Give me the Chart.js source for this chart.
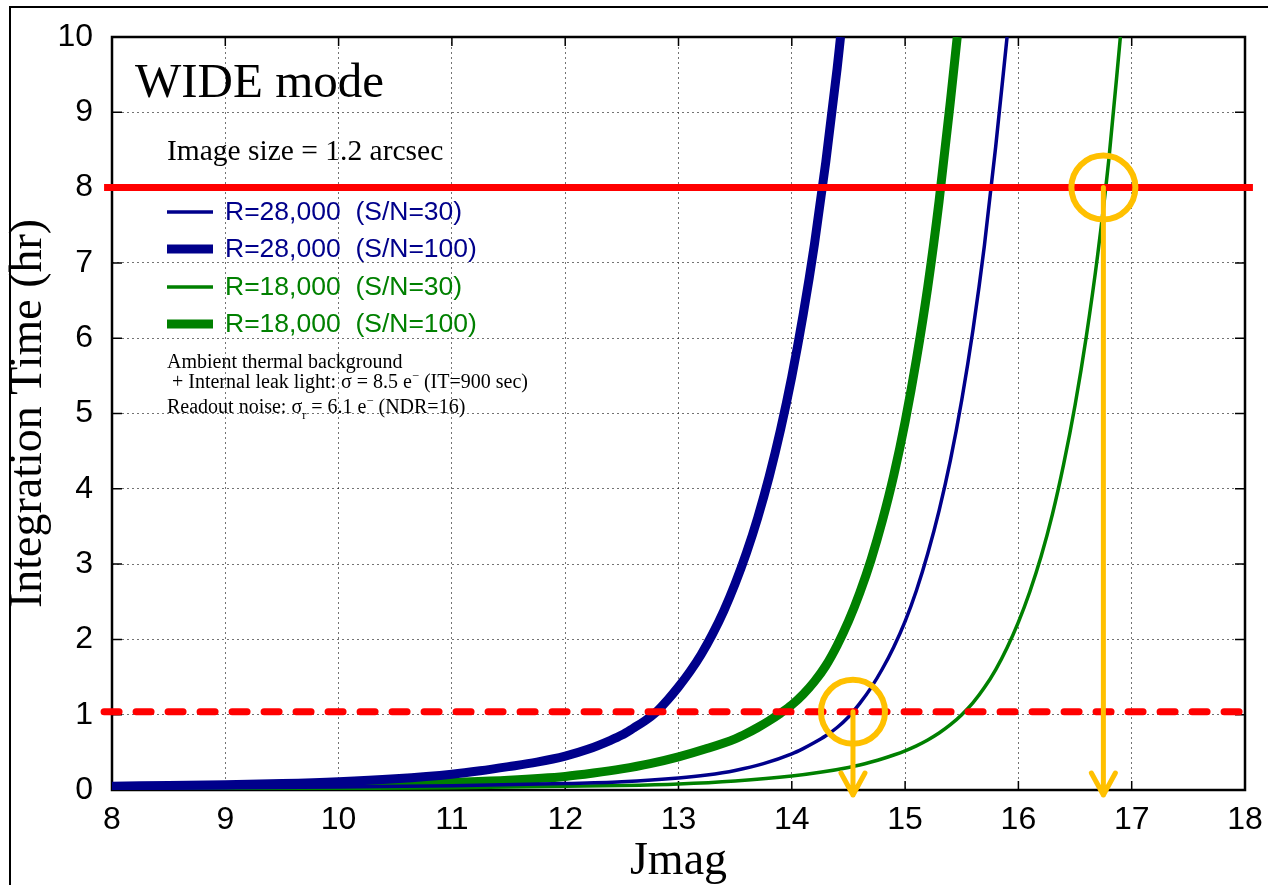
<!DOCTYPE html>
<html>
<head>
<meta charset="utf-8">
<script src="https://cdn.jsdelivr.net/npm/chart.js@4.4.0/dist/chart.umd.min.js"></script>
<style>
  html, body { margin: 0; padding: 0; background: #fff; overflow: hidden; }
  #wrap { position: relative; width: 1268px; height: 885px; overflow: hidden; }
  #frame { position: absolute; left: 9px; top: 6px; width: 1400px; height: 1000px; border: 2px solid #000; }
  canvas { position: absolute; left: 0; top: 0; }
</style>
</head>
<body>
<div id="wrap">
  <div id="frame"></div>
  <canvas id="myChart" width="1268" height="885"></canvas>
</div>
<script>
// axis ticks
const jmagTicks = [8, 9, 10, 11, 12, 13, 14, 15, 16, 17, 18];
const hourTicks = [0, 1, 2, 3, 4, 5, 6, 7, 8, 9, 10];

// R=28,000 S/N=30 (thin blue)
const r28sn30Mag = [8, 9, 10, 11, 12, 12.5, 13, 13.25, 13.5, 13.75, 14, 14.1, 14.2, 14.3, 14.4, 14.5, 14.6, 14.7, 14.8, 14.9, 15, 15.1, 15.2, 15.3, 15.4, 15.5, 15.6, 15.7, 15.8, 15.9];
const r28sn30Hr = [0.02, 0.03, 0.04, 0.055, 0.085, 0.11, 0.16, 0.2, 0.26, 0.35, 0.48, 0.55, 0.63, 0.72, 0.83, 0.97, 1.15, 1.36, 1.61, 1.9, 2.24, 2.65, 3.14, 3.71, 4.38, 5.18, 6.12, 7.23, 8.55, 10];

// R=28,000 S/N=100 (thick blue)
const r28sn100Mag = [8, 8.5, 9, 9.5, 10, 10.5, 11, 11.25, 11.5, 11.75, 12, 12.2, 12.4, 12.5, 12.6, 12.7, 12.8, 12.9, 13, 13.1, 13.2, 13.3, 13.4, 13.5, 13.6, 13.7, 13.8, 13.9, 14, 14.1, 14.2, 14.3, 14.4, 14.43];
const r28sn100Hr = [0.05, 0.06, 0.07, 0.085, 0.11, 0.15, 0.21, 0.255, 0.31, 0.37, 0.45, 0.54, 0.66, 0.73, 0.82, 0.915, 1.03, 1.19, 1.37, 1.57, 1.8, 2.07, 2.38, 2.74, 3.15, 3.62, 4.16, 4.78, 5.49, 6.31, 7.25, 8.34, 9.58, 10];

// R=18,000 S/N=30 (thin green)
const r18sn30Mag = [8, 9, 10, 11, 12, 12.5, 13, 13.5, 14, 14.25, 14.5, 14.6, 14.7, 14.8, 14.9, 15, 15.1, 15.2, 15.3, 15.4, 15.5, 15.6, 15.7, 15.8, 15.9, 16, 16.1, 16.2, 16.3, 16.4, 16.5, 16.6, 16.7, 16.8, 16.9];
const r18sn30Hr = [0.01, 0.015, 0.02, 0.03, 0.05, 0.06, 0.08, 0.12, 0.185, 0.235, 0.3, 0.333, 0.372, 0.415, 0.465, 0.521, 0.587, 0.665, 0.757, 0.867, 1.0, 1.16, 1.36, 1.6, 1.89, 2.23, 2.63, 3.1, 3.66, 4.33, 5.11, 6.03, 7.11, 8.4, 10];

// R=18,000 S/N=100 (thick green)
const r18sn100Mag = [8, 9, 10, 10.5, 11, 11.5, 12, 12.25, 12.5, 12.75, 13, 13.25, 13.5, 13.6, 13.7, 13.8, 13.9, 14, 14.1, 14.2, 14.3, 14.4, 14.5, 14.6, 14.7, 14.8, 14.9, 15, 15.1, 15.2, 15.3, 15.4, 15.46];
const r18sn100Hr = [0.03, 0.04, 0.06, 0.075, 0.1, 0.13, 0.18, 0.225, 0.28, 0.35, 0.44, 0.55, 0.68, 0.75, 0.83, 0.92, 1.02, 1.13, 1.27, 1.44, 1.65, 1.92, 2.24, 2.62, 3.06, 3.58, 4.18, 4.89, 5.72, 6.68, 7.82, 9.15, 10];

const seriesNames = ['R=28,000  (S/N=30)', 'R=28,000  (S/N=100)', 'R=18,000  (S/N=30)', 'R=18,000  (S/N=100)'];

// horizontal limits (hr) and their Jmag span
const limitHr = [8, 1.04];
const limitSolidMag = [7.93, 18.07];
const limitDashMag = [7.93, 17.97];

// circled crossings
const markMag = [16.75, 14.54];
const markHr = [8, 1.04];

const NAVY = '#00008B';
const GREEN = '#008000';
const RED = '#FF0000';
const ORANGE = '#FFC000';

function pts(xs, ys) {
  return xs.map(function(x, i) { return { x: x, y: ys[i] }; });
}

function drawRuns(ctx, x, y, runs, size) {
  runs.forEach(function(r) {
    const s = (r.sub || r.sup) ? size * 0.62 : size;
    ctx.font = s + 'px "Liberation Serif"';
    const dy = r.sub ? size * 0.28 : (r.sup ? -size * 0.42 : 0);
    ctx.fillText(r.t, x, y + dy);
    x += ctx.measureText(r.t).width;
  });
}

// frame + inward ticks
const framePlugin = {
  id: 'framePlugin',
  beforeDatasetsDraw(chart) {
    const ctx = chart.ctx;
    const a = chart.chartArea;
    const xs = chart.scales.x, ys = chart.scales.y;
    ctx.save();
    ctx.strokeStyle = '#000';
    ctx.lineWidth = 1.5;
    jmagTicks.forEach(function(v) {
      const px = xs.getPixelForValue(v);
      ctx.beginPath();
      ctx.moveTo(px, a.bottom); ctx.lineTo(px, a.bottom - 9);
      ctx.moveTo(px, a.top); ctx.lineTo(px, a.top + 9);
      ctx.stroke();
    });
    hourTicks.forEach(function(v) {
      const py = ys.getPixelForValue(v);
      ctx.beginPath();
      ctx.moveTo(a.left, py); ctx.lineTo(a.left + 10, py);
      ctx.moveTo(a.right, py); ctx.lineTo(a.right - 10, py);
      ctx.stroke();
    });
    ctx.lineWidth = 2.5;
    ctx.strokeRect(a.left, a.top, a.right - a.left, a.bottom - a.top);
    ctx.restore();
  }
};

// texts, legend and arrows
const notesPlugin = {
  id: 'notesPlugin',
  afterDatasetsDraw(chart) {
    const ctx = chart.ctx;
    const xs = chart.scales.x, ys = chart.scales.y;
    ctx.save();

    // arrows down to the Jmag axis
    ctx.strokeStyle = ORANGE;
    ctx.lineWidth = 5;
    ctx.lineCap = 'round';
    ctx.lineJoin = 'round';
    markMag.forEach(function(m, i) {
      const px = xs.getPixelForValue(m);
      const py = ys.getPixelForValue(markHr[i]);
      const tip = chart.chartArea.bottom + 5;
      ctx.beginPath();
      ctx.moveTo(px, py);
      ctx.lineTo(px, tip);
      ctx.moveTo(px - 12, tip - 22);
      ctx.lineTo(px, tip);
      ctx.lineTo(px + 12, tip - 22);
      ctx.stroke();
    });

    ctx.fillStyle = '#000';
    ctx.textBaseline = 'alphabetic';
    ctx.textAlign = 'left';
    ctx.font = '49px "Liberation Serif"';
    ctx.fillText('WIDE mode', 135, 97);
    ctx.font = '29.5px "Liberation Serif"';
    ctx.fillText('Image size = 1.2 arcsec', 167, 160);

    // legend
    const colors = [NAVY, NAVY, GREEN, GREEN];
    const widths = [3.5, 9, 3.5, 9];
    const rows = [212, 249, 287, 324];
    ctx.lineCap = 'butt';
    ctx.textBaseline = 'middle';
    ctx.font = '26.5px "Liberation Sans"';
    seriesNames.forEach(function(name, i) {
      ctx.strokeStyle = colors[i];
      ctx.lineWidth = widths[i];
      ctx.beginPath();
      ctx.moveTo(167, rows[i]);
      ctx.lineTo(213, rows[i]);
      ctx.stroke();
      ctx.fillStyle = colors[i];
      ctx.fillText(name, 225, rows[i] + 1);
    });

    ctx.fillStyle = '#000';
    ctx.textBaseline = 'alphabetic';
    drawRuns(ctx, 167, 368, [{ t: 'Ambient thermal background' }], 20);
    drawRuns(ctx, 172, 388, [{ t: '+ Internal leak light: σ = 8.5 e' }, { t: '−', sup: true }, { t: ' (IT=900 sec)' }], 20);
    drawRuns(ctx, 167, 413, [{ t: 'Readout noise: σ' }, { t: 'r', sub: true }, { t: ' = 6.1 e' }, { t: '−', sup: true }, { t: ' (NDR=16)' }], 20);
    ctx.restore();
  }
};

const ctx = document.getElementById('myChart').getContext('2d');
const myChart = new Chart(ctx, {
  type: 'line',
  data: {
    datasets: [
      {
        type: 'scatter',
        data: pts(markMag, markHr),
        pointStyle: 'circle',
        pointRadius: 32,
        pointBorderWidth: 6,
        pointBorderColor: ORANGE,
        pointBackgroundColor: 'rgba(0,0,0,0)',
        clip: false
      },
      {
        data: pts(limitSolidMag, [limitHr[0], limitHr[0]]),
        borderColor: RED,
        borderWidth: 7,
        pointRadius: 0,
        clip: false
      },
      {
        data: pts(limitDashMag, [limitHr[1], limitHr[1]]),
        borderColor: RED,
        borderWidth: 7,
        borderDash: [15, 17],
        borderCapStyle: 'round',
        pointRadius: 0,
        clip: false
      },
      {
        label: seriesNames[0],
        data: pts(r28sn30Mag, r28sn30Hr),
        borderColor: NAVY,
        borderWidth: 3.5,
        pointRadius: 0,
        cubicInterpolationMode: 'monotone'
      },
      {
        label: seriesNames[1],
        data: pts(r28sn100Mag, r28sn100Hr),
        borderColor: NAVY,
        borderWidth: 9,
        pointRadius: 0,
        cubicInterpolationMode: 'monotone'
      },
      {
        label: seriesNames[2],
        data: pts(r18sn30Mag, r18sn30Hr),
        borderColor: GREEN,
        borderWidth: 3.5,
        pointRadius: 0,
        cubicInterpolationMode: 'monotone'
      },
      {
        label: seriesNames[3],
        data: pts(r18sn100Mag, r18sn100Hr),
        borderColor: GREEN,
        borderWidth: 9,
        pointRadius: 0,
        cubicInterpolationMode: 'monotone'
      }
    ]
  },
  options: {
    responsive: false,
    animation: false,
    events: [],
    layout: { autoPadding: false, padding: { left: 6, top: 37, right: 23, bottom: 0 } },
    plugins: {
      legend: { display: false },
      tooltip: { enabled: false }
    },
    scales: {
      x: {
        type: 'linear',
        min: jmagTicks[0],
        max: jmagTicks[jmagTicks.length - 1],
        afterFit: function(scale) {
          scale.height = 95;
          scale.paddingLeft = 0;
          scale.paddingRight = 0;
        },
        ticks: {
          stepSize: 1,
          padding: 11,
          color: '#000',
          font: { family: '"Liberation Sans"', size: 32 }
        },
        grid: {
          drawTicks: false,
          color: 'rgba(0,0,0,0.55)',
          lineWidth: 1
        },
        border: { display: false, dash: [2, 3] },
        title: {
          display: true,
          text: 'Jmag',
          color: '#000',
          padding: 0,
          font: { family: '"Liberation Serif"', size: 46, lineHeight: 1 }
        }
      },
      y: {
        min: hourTicks[0],
        max: hourTicks[hourTicks.length - 1],
        afterFit: function(scale) {
          scale.width = 106;
          scale.paddingTop = 0;
          scale.paddingBottom = 0;
        },
        ticks: {
          stepSize: 1,
          padding: 19,
          color: '#000',
          font: { family: '"Liberation Sans"', size: 32 }
        },
        grid: {
          drawTicks: false,
          color: 'rgba(0,0,0,0.55)',
          lineWidth: 1
        },
        border: { display: false, dash: [2, 3] },
        title: {
          display: true,
          text: 'Integration Time (hr)',
          color: '#000',
          padding: 0,
          font: { family: '"Liberation Serif"', size: 46, lineHeight: 1 }
        }
      }
    }
  },
  plugins: [framePlugin, notesPlugin]
});
</script>
</body>
</html>
